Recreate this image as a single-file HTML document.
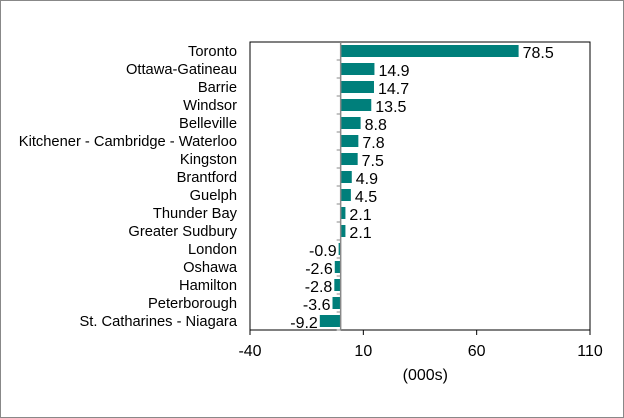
<!DOCTYPE html>
<html><head><meta charset="utf-8"><style>
body{margin:0;background:#fff}
svg{display:block;font-family:"Liberation Sans",Arial,sans-serif}
</style></head><body>
<svg id="c" width="624" height="418">
<rect x="0.5" y="0.5" width="623" height="417" fill="#fff" stroke="#888"/>
</svg>
<script>
const categories=["Toronto","Ottawa-Gatineau","Barrie","Windsor","Belleville","Kitchener - Cambridge - Waterloo","Kingston","Brantford","Guelph","Thunder Bay","Greater Sudbury","London","Oshawa","Hamilton","Peterborough","St. Catharines - Niagara"];
const values=[78.5,14.9,14.7,13.5,8.8,7.8,7.5,4.9,4.5,2.1,2.1,-0.9,-2.6,-2.8,-3.6,-9.2];
const ticks=[-40,10,60,110];
const svg=document.getElementById('c');const NS='http://www.w3.org/2000/svg';
const L=250,R=590,T=42,B=330,xmin=-40,xmax=110;
const x=v=>L+(v-xmin)/(xmax-xmin)*(R-L);
const band=(B-T)/categories.length;
const y=i=>T+i*band;
function mk(t,a,txt){const e=document.createElementNS(NS,t);for(const k in a)e.setAttribute(k,a[k]);if(txt!=null)e.textContent=txt;svg.appendChild(e);return e;}
let e=mk('rect',{x:L,y:T,width:R-L,height:B-T,fill:'none',stroke:'#000','stroke-width':1});

ticks.forEach(t=>{
 let l=mk('line',{x1:x(t),x2:x(t),y1:B,y2:B+5,stroke:'#000'});
 
 let tx=mk('text',{x:x(t),y:B+26,'font-size':16,'text-anchor':'middle',fill:'#000'},t);
 
});
e=mk('text',{x:x(10)+62,y:B+50,'font-size':16,'text-anchor':'middle',fill:'#000'},'(000s)');

categories.forEach((c,i)=>{
 const v=values[i],cy=y(i)+band/2;
 let r=mk('rect',{x:Math.min(x(0),x(v)),y:cy-6,width:Math.abs(x(v)-x(0)),height:12,fill:'#007f7b'});
 
 let t=mk('text',{x:237,y:cy+5,'font-size':14.7,'text-anchor':'end',fill:'#000'},c);
 
 let vt=mk('text',{x:v>=0?x(v)+4:x(v)-2,y:cy+7,'font-size':16,'text-anchor':v>=0?'start':'end',fill:'#000'},v.toFixed(1));
 
 let tk=mk('line',{x1:x(0)-4,x2:x(0),y1:y(i+1),y2:y(i+1),stroke:'#888'});
 
});
e=mk('line',{x1:x(0),x2:x(0),y1:T,y2:B,stroke:'#888','stroke-width':1.5});

</script>
</body></html>
